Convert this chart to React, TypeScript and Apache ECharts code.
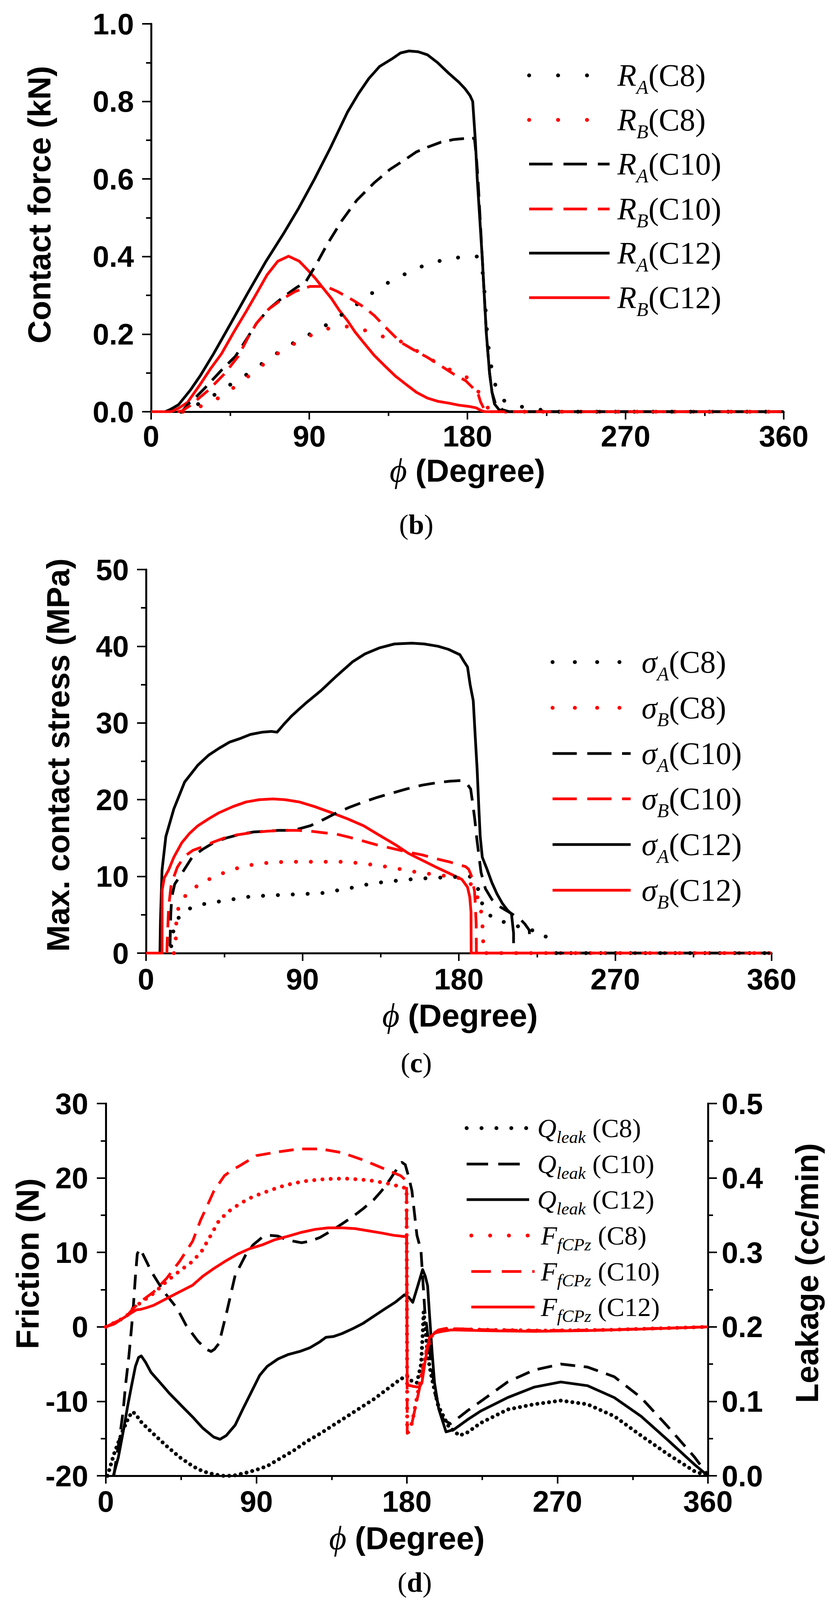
import React, { useEffect, useRef } from "react";
import * as echarts from "echarts";

const SANS = "'Liberation Sans', Arial, Helvetica, sans-serif";
const SERIF = "'Liberation Serif', 'Times New Roman', 'DejaVu Serif', serif";
const RED = "#ff0000";
const BLACK = "#000000";

// ---- (b) contact force (kN) vs phi (deg)
const forceRA_C8 = [[17,0],[22,0.012],[27,0.02],[37,0.046],[45.8,0.072],[55.5,0.099],[64.4,0.128],[72,0.152],[79.7,0.174],[90.4,0.2],[101,0.227],[110,0.255],[117.8,0.279],[127,0.31],[135,0.333],[143.6,0.353],[154.3,0.375],[166.5,0.392],[178.6,0.4],[186,0.4],[187.8,0.39],[189.3,0.336],[190.5,0.25],[191.4,0.187],[193.2,0.126],[195.4,0.074],[200,0.03],[210.6,0.013],[225.8,0.002],[232,0],[360,0]];
const forceRB_C8 = [[18,0],[22,0.005],[29.5,0.016],[40,0.039],[48.4,0.067],[57,0.097],[65,0.126],[72,0.15],[80,0.172],[90.4,0.196],[97,0.21],[104,0.218],[110,0.22],[116,0.218],[123,0.208],[130,0.196],[137,0.188],[143.6,0.179],[150,0.16],[157.3,0.14],[163,0.125],[168,0.113],[173,0.102],[178.6,0.092],[182,0.08],[184.7,0.065],[187,0.045],[189.3,0.022],[191,0.012],[194,0.004],[197,0],[360,0]];
const forceRA_C10 = [[16,0],[17.8,0.002],[20.7,0.018],[26,0.04],[31,0.063],[40,0.107],[48,0.143],[54,0.185],[60,0.228],[67,0.265],[75,0.295],[82,0.318],[88,0.335],[94,0.38],[100,0.43],[108.6,0.493],[117,0.545],[126.9,0.59],[136,0.625],[145.2,0.652],[151,0.67],[157.3,0.682],[165,0.695],[172.5,0.702],[180,0.705],[184,0.705],[185.2,0.65],[186,0.6],[187.2,0.5],[188.4,0.4],[189.6,0.3],[190.8,0.2],[192.6,0.1],[194,0.05],[196,0.02],[200,0.005],[204,0],[360,0]];
const forceRB_C10 = [[15,0],[17.5,0.002],[22,0.015],[32.5,0.055],[42,0.099],[49.6,0.143],[55,0.19],[60,0.228],[67,0.265],[75.2,0.292],[82,0.31],[90.4,0.323],[99.5,0.323],[106,0.31],[114.7,0.288],[121,0.27],[127,0.248],[134,0.215],[142,0.179],[150,0.158],[157.3,0.14],[165,0.118],[172.5,0.096],[179,0.08],[183.2,0.061],[185,0.055],[186.2,0.044],[187.5,0.025],[189.3,0.009],[191,0],[360,0]];
const forceRA_C12 = [[8,0],[11,0.006],[15.6,0.018],[22.2,0.055],[28,0.093],[35.5,0.149],[45,0.225],[55,0.306],[65,0.385],[75.2,0.458],[84,0.525],[93,0.6],[102,0.68],[111.7,0.772],[118,0.82],[123.9,0.859],[130,0.89],[137.5,0.911],[142,0.925],[146.7,0.93],[152,0.928],[157.3,0.92],[163,0.9],[169.5,0.872],[175,0.85],[178.6,0.833],[181.5,0.815],[183,0.8],[184.5,0.7],[185.6,0.6],[187,0.5],[188.4,0.4],[189.6,0.3],[190.8,0.2],[192.6,0.1],[194,0.05],[195.4,0.02],[198,0.005],[203,0],[360,0]];
const forceRB_C12 = [[0,0],[11,0],[12.4,0.002],[16,0.01],[20.7,0.024],[28,0.071],[34,0.112],[40,0.149],[47,0.205],[53.9,0.257],[60,0.305],[66,0.353],[72.1,0.388],[78.2,0.401],[84.3,0.388],[89,0.366],[93.4,0.344],[98,0.318],[102.6,0.292],[107,0.262],[111.7,0.235],[116,0.206],[120.8,0.179],[127,0.145],[133,0.118],[139,0.092],[145.2,0.07],[151,0.05],[157.3,0.035],[163,0.027],[169.5,0.022],[175,0.017],[181.7,0.013],[185,0.01],[187.8,0.003],[190,0],[360,0]];

// ---- (c) max. contact stress (MPa) vs phi (deg)
const stressA_C8 = [[14.5,0.9],[15.5,2.5],[16,3.3],[18,4.4],[20.6,5.1],[25,5.8],[29.8,6.2],[37,6.6],[45,6.8],[52,7.1],[60.6,7.4],[70,7.5],[79,7.6],[90,7.7],[100.6,7.8],[108,8.1],[116,8.4],[126,8.9],[137.5,9.3],[147,9.5],[156,9.7],[165,9.8],[174.5,9.9],[180,9.95],[186.3,10],[189,9.2],[191.2,8.3],[193.5,6.4],[198.4,4.8],[206.5,4],[215.5,3.4],[225,2.8],[232.4,1.85],[232.5,"-"],[236,0],[360,0]];
const stressB_C8 = [[16,0],[17,1],[17.5,4.6],[19,6.3],[22,7.3],[25.5,8.2],[29.8,8.8],[35,9.5],[39,9.9],[45,10.5],[51.4,11],[58,11.4],[66.8,11.7],[74,11.85],[82,11.9],[91,11.9],[100.6,11.9],[108,11.9],[116,11.9],[123,11.7],[131.4,11.5],[140,11.2],[150,10.8],[157,10.5],[164.3,10.3],[174.4,10],[185,9.6],[189,8.3],[192.4,6.3],[193.5,4],[194,1.7],[194.1,0],[360,0]];
const stressA_C10 = [[13.8,0.9],[14.2,5],[14.8,7.3],[16.5,9],[20.6,10.4],[26.8,12.6],[33,13.6],[39,14.4],[46,15],[54.5,15.5],[62,15.8],[69.8,15.9],[76,16],[82,16],[88,16.2],[94.5,16.6],[102,17.4],[109.8,18.3],[117,19],[125.2,19.7],[133,20.3],[140.6,20.8],[150,21.4],[159,21.9],[167,22.2],[174.5,22.4],[181.2,22.5],[184,22.3],[186.8,21.4],[188,19.5],[189.2,17.4],[190.3,15],[191.4,13],[192.8,10.5],[195.3,8.4],[199,7],[204,6],[210,5.2],[215.5,4.4],[218,3.8],[220.5,3],[221,1.4],[221.1,"-"],[234,0],[360,0]];
const stressB_C10 = [[12,0],[12.1,1],[13,6],[14.5,9],[18,11.2],[22,12.6],[27,13.4],[33,13.9],[39,14.5],[45,15],[52,15.4],[60.6,15.7],[70,15.9],[79,16],[87,16],[94.5,15.9],[102,15.7],[109.8,15.5],[117,15.1],[125.2,14.6],[133,14.1],[140.6,13.7],[150,13.2],[159,12.8],[167,12.3],[174.5,11.9],[180,11.5],[183.7,11.3],[185.6,10.95],[187.2,10.1],[189,8.1],[189.4,6.75],[190,3.7],[190.1,0],[360,0]];
const stressA_C12 = [[8,0],[8.3,4.2],[9.2,10.8],[11.4,15.2],[16,18.8],[22.2,22.3],[29.8,24.5],[36,25.8],[42,26.7],[48,27.5],[54.5,28],[60,28.5],[66.8,28.8],[72,28.9],[75.4,28.8],[80,30],[83.7,30.9],[92,32.6],[100.6,34.2],[110,36.2],[119,38],[126,39],[134.5,39.8],[143,40.3],[153,40.4],[160,40.3],[168,40],[174,39.6],[180.6,38.9],[183,38],[185,37.3],[186.5,35],[188.3,32.9],[189.5,28],[190.5,24.1],[191.5,19],[192.3,15.2],[193.5,12.5],[196.2,10.95],[199,9.2],[202,7.7],[205,6.5],[208,5.6],[210.3,5.1],[211.5,2.6],[211.5,1.3]];
const stressB_C12 = [[0,0],[9.2,0],[9.25,8.2],[10.5,9.8],[12.9,10.8],[16,12.5],[20.6,14.4],[25,15.6],[29.8,16.6],[36,17.5],[42,18.3],[50,19.1],[57.5,19.7],[65,20],[73,20.1],[80,20],[88.3,19.7],[97,19.1],[106.8,18.3],[116,17.5],[125.2,16.6],[134,15.4],[143.7,14.1],[151,13],[159,12.1],[167,11.2],[174.5,10.4],[181.8,9.6],[185,8.6],[186.3,7.3],[187,5.4],[187.1,0],[360,0]];

// ---- (d) leakage Q (cc/min, right axis) and friction F (N, left axis) vs phi (deg)
const leakC8 = [[1,0],[5,0.03],[10,0.06],[14,0.08],[16.1,0.086],[18,0.082],[21.6,0.071],[28.6,0.056],[36.3,0.04],[44.1,0.025],[51.9,0.013],[58,0.006],[64.5,0.002],[70,0],[76,0],[83.7,0.004],[90,0.008],[96.5,0.013],[104,0.023],[112.4,0.034],[120,0.046],[128.4,0.057],[136,0.068],[144.4,0.08],[152,0.091],[160.3,0.103],[168,0.116],[176.3,0.13],[180,0.134],[183,0.127],[186,0.125],[188.5,0.15],[189.6,0.197],[190,0.22],[191,0.2],[192.5,0.16],[195,0.13],[198.7,0.094],[205,0.066],[211.4,0.054],[216,0.058],[224.2,0.071],[240.2,0.089],[256,0.096],[272,0.101],[288,0.096],[304,0.08],[320,0.054],[336,0.029],[352,0.006],[360,0]];
const leakC10 = [[4.8,0],[6.4,0.025],[8.3,0.052],[10.3,0.086],[11.8,0.122],[13.8,0.161],[15.3,0.197],[16.5,0.229],[17.7,0.268],[18.8,0.298],[20.4,0.305],[22.5,0.296],[24.7,0.286],[27,0.275],[31.7,0.258],[34.8,0.247],[42.6,0.225],[48,0.202],[55,0.181],[60,0.17],[62.9,0.167],[65,0.17],[67.7,0.178],[72.5,0.222],[77.3,0.269],[83.7,0.297],[88,0.31],[93.3,0.32],[98,0.323],[102.8,0.322],[107,0.318],[112.4,0.315],[117,0.313],[122,0.315],[128,0.32],[134.8,0.329],[141,0.338],[147.6,0.348],[154,0.359],[160.3,0.371],[165,0.383],[169.9,0.398],[174,0.412],[177,0.421],[179,0.418],[181,0.402],[183,0.383],[186,0.323],[188.4,0.303],[190.7,0.222],[193.9,0.163],[197,0.108],[201.9,0.075],[206,0.07],[208,0.073],[216,0.087],[224.2,0.1],[240.2,0.126],[256,0.142],[272,0.15],[288,0.146],[304,0.133],[320,0.105],[336,0.066],[352,0.025],[360,0.001]];
const leakC12 = [[4.5,0],[7.5,0.025],[10.7,0.063],[13,0.093],[15.3,0.12],[17.7,0.147],[19.6,0.159],[21.2,0.161],[23.9,0.152],[27,0.139],[32.5,0.125],[37.9,0.111],[45.7,0.093],[51.9,0.079],[58,0.064],[64.5,0.052],[68.3,0.049],[72,0.054],[77.3,0.068],[82,0.09],[86.9,0.112],[92,0.135],[96.5,0.147],[103,0.157],[109.2,0.163],[116,0.167],[122,0.172],[128,0.18],[131.6,0.186],[136,0.187],[141.2,0.191],[148,0.198],[154,0.205],[160,0.214],[166.7,0.224],[173,0.233],[178.5,0.243],[181,0.24],[183.5,0.233],[186.5,0.255],[189.4,0.277],[191,0.268],[192.4,0.255],[193.5,0.217],[195,0.168],[196.5,0.125],[199,0.09],[203.4,0.059],[208,0.062],[216,0.075],[224.2,0.087],[240.2,0.105],[256,0.119],[272,0.126],[288,0.121],[304,0.105],[320,0.08],[336,0.048],[352,0.015],[360,0]];
const frictionC8 = [[0,0],[9,1],[13,1.6],[16.1,2.45],[20.8,3.25],[28.6,4.5],[36.3,6.1],[44.1,7.5],[51.9,8.8],[57.4,10.2],[62,12],[67.7,14.3],[74,15.6],[80.5,16.6],[88,17.5],[96.5,18.2],[104,18.8],[112.4,19.3],[120,19.6],[128.4,19.8],[136,19.9],[144.4,19.9],[152,19.8],[160.3,19.6],[169.9,19.2],[179.8,18.6],[180.2,-13.5],[183,-13],[186,-9.5],[189,-6],[192,-3],[195,-1.2],[199,-0.5],[204,-0.3],[230,-0.4],[260,-0.5],[300,-0.4],[330,-0.2],[360,0]];
const frictionC10 = [[0,0],[9,1],[13,1.6],[16.1,2.4],[20.8,3.4],[28.6,4.7],[36.3,6.5],[44.1,8.8],[51.9,11.5],[56.6,14.3],[61.3,16.6],[64.5,18.2],[70.9,20.3],[75,21],[80.5,21.7],[90,23],[102.8,23.5],[115.6,23.9],[128.4,23.9],[141.2,23.4],[154,22.4],[166.7,21.2],[176.3,20.3],[179.8,19.6],[180.2,-14.3],[182,-14],[184.3,-11.6],[187.5,-8.3],[190,-5],[192.3,-2.5],[195,-1],[199,-0.4],[203.4,-0.2],[230,-0.4],[260,-0.5],[300,-0.4],[330,-0.2],[360,0]];
const frictionC12 = [[0,0],[5.2,0.4],[9.1,1],[13,1.55],[16.1,2],[18.4,2.3],[20.8,2.35],[24.7,2.6],[28.6,2.9],[36.3,3.8],[44.1,4.7],[51.9,5.6],[58,6.8],[65,7.9],[72,8.9],[79,9.8],[86,10.5],[93.3,11],[101,11.7],[109.2,12.2],[117,12.7],[125.2,13.1],[133,13.3],[141.2,13.3],[149,13.2],[157.1,12.9],[165,12.6],[172,12.3],[179.8,12.1],[180.2,-7.8],[184,-8],[187.5,-8.1],[189,-7.5],[191,-4.5],[193.5,-1.4],[197,-0.8],[201,-0.6],[206.6,-0.4],[224,-0.5],[256,-0.6],[288,-0.5],[320,-0.3],[360,0]];

const caseLabels = ["(C8)", "(C10)", "(C12)"];

// The browser window is only 4096px tall, so the 4971px-high figure is laid
// out with its vertical positions squeezed by K to keep every part visible.
const PAGE_H = 4096;
const K = PAGE_H / 4971;
const sy = (v: number) => Math.round(v * K);

const TICK_FONT = 76;
const TITLE_FONT = 82;

type Kind = "dot" | "dash" | "solid";

function lineSeries(name: string, data: any[], xi: number, yi: number, color: string, kind: Kind, pattern: number[]) {
  return {
    name,
    type: "line",
    xAxisIndex: xi,
    yAxisIndex: yi,
    data,
    symbol: "none",
    showSymbol: false,
    connectNulls: false,
    silent: true,
    lineStyle: {
      color,
      width: kind === "dot" ? 10 : 7,
      type: kind === "solid" ? "solid" : pattern,
      cap: kind === "dot" ? "round" : "butt",
      join: "round",
    },
  };
}

const labelStyle = { color: BLACK, fontSize: TICK_FONT, fontWeight: "bold" as const, fontFamily: SANS };
const tickLine = { color: BLACK, width: 4 };

function xAxisFor(gridIndex: number, margin: number) {
  return {
    type: "value",
    gridIndex,
    min: 0,
    max: 360,
    interval: 90,
    axisLine: { show: true, onZero: false, lineStyle: { color: BLACK, width: 5 } },
    axisTick: { show: true, length: 20, lineStyle: tickLine },
    minorTick: { show: true, splitNumber: 2, length: 11, lineStyle: tickLine },
    splitLine: { show: false },
    axisLabel: { ...labelStyle, margin },
  };
}

function yAxisFor(gridIndex: number, min: number, max: number, interval: number, decimals: number, position: string, margin: number) {
  return {
    type: "value",
    gridIndex,
    position,
    min,
    max,
    interval,
    axisLine: { show: true, onZero: false, lineStyle: { color: BLACK, width: 5 } },
    axisTick: { show: true, length: 23, lineStyle: tickLine },
    minorTick: { show: true, splitNumber: 2, length: 13, lineStyle: tickLine },
    splitLine: { show: false },
    axisLabel: { ...labelStyle, margin, formatter: (v: number) => v.toFixed(decimals) },
  };
}

function vTitle(x: number, y: number, text: string) {
  return {
    type: "text",
    x,
    y,
    rotation: Math.PI / 2,
    silent: true,
    style: { text, fill: BLACK, fontSize: TITLE_FONT, fontWeight: "bold", fontFamily: SANS, align: "center", verticalAlign: "middle" },
  };
}

function phiTitle(x: number, y: number) {
  return {
    type: "text",
    x,
    y,
    silent: true,
    style: {
      text: "{p|ϕ }{t|(Degree)}",
      fill: BLACK,
      align: "center",
      verticalAlign: "middle",
      rich: {
        p: { fontFamily: SERIF, fontStyle: "italic", fontSize: 86, fill: BLACK },
        t: { fontFamily: SANS, fontWeight: "bold", fontSize: 82, fill: BLACK },
      },
    },
  };
}

function caption(x: number, y: number, letter: string) {
  return {
    type: "text",
    x,
    y,
    silent: true,
    style: {
      text: `{n|(}{b|${letter}}{n|)}`,
      align: "center",
      verticalAlign: "middle",
      rich: {
        n: { fontFamily: SERIF, fontSize: 72, fill: BLACK },
        b: { fontFamily: SERIF, fontSize: 72, fontWeight: "bold", fill: BLACK },
      },
    },
  };
}

type LegendRow = { color: string; kind: Kind; dash: number[]; text: string };

function legendBlock(x1: number, x2: number, tx: number, ys: number[], rows: LegendRow[], rich: any) {
  const els: any[] = [];
  rows.forEach((r, i) => {
    const y = ys[i];
    els.push({
      type: "line",
      silent: true,
      shape: { x1, y1: y, x2, y2: y },
      style: {
        stroke: r.color,
        lineWidth: r.kind === "dot" ? 10 : 7,
        lineDash: r.kind === "solid" ? null : r.dash,
        lineCap: r.kind === "dot" ? "round" : "butt",
      },
    });
    els.push({
      type: "text",
      x: tx,
      y,
      silent: true,
      style: { text: r.text, fill: BLACK, align: "left", verticalAlign: "middle", rich },
    });
  });
  return els;
}

const richB = {
  i: { fontFamily: SERIF, fontStyle: "italic", fontSize: 80, fill: BLACK },
  s: { fontFamily: SERIF, fontStyle: "italic", fontSize: 50, fill: BLACK, padding: [60, 0, 0, 0] },
  r: { fontFamily: SERIF, fontSize: 80, fill: BLACK },
};
const richD = {
  i: { fontFamily: SERIF, fontStyle: "italic", fontSize: 68, fill: BLACK },
  s: { fontFamily: SERIF, fontStyle: "italic", fontSize: 45, fill: BLACK, padding: [46, 0, 0, 0] },
  r: { fontFamily: SERIF, fontSize: 68, fill: BLACK },
};

function buildOption(): any {
  const dotB = [0.1, 48];
  const dashB = [38, 21];
  const dotC = [0.1, 38];
  const dashC = [42, 24];
  const dashD = [38, 22];

  const series = [
    // (b)
    lineSeries("RA(C12)", forceRA_C12, 0, 0, BLACK, "solid", []),
    lineSeries("RB(C12)", forceRB_C12, 0, 0, RED, "solid", []),
    lineSeries("RA(C8)", forceRA_C8, 0, 0, BLACK, "dot", dotB),
    lineSeries("RB(C8)", forceRB_C8, 0, 0, RED, "dot", dotB),
    lineSeries("RA(C10)", forceRA_C10, 0, 0, BLACK, "dash", dashB),
    lineSeries("RB(C10)", forceRB_C10, 0, 0, RED, "dash", dashB),
    // (c)
    lineSeries("σA(C12)", stressA_C12, 1, 1, BLACK, "solid", []),
    lineSeries("σB(C12)", stressB_C12, 1, 1, RED, "solid", []),
    lineSeries("σA(C8)", stressA_C8, 1, 1, BLACK, "dot", dotC),
    lineSeries("σB(C8)", stressB_C8, 1, 1, RED, "dot", dotC),
    lineSeries("σA(C10)", stressA_C10, 1, 1, BLACK, "dash", dashC),
    lineSeries("σB(C10)", stressB_C10, 1, 1, RED, "dash", dashC),
    // (d)
    lineSeries("Qleak(C12)", leakC12, 2, 3, BLACK, "solid", []),
    lineSeries("Qleak(C8)", leakC8, 2, 3, BLACK, "dot", [0.1, 15]),
    lineSeries("Qleak(C10)", leakC10, 2, 3, BLACK, "dash", dashD),
    lineSeries("FfCPz(C12)", frictionC12, 2, 2, RED, "solid", []),
    lineSeries("FfCPz(C8)", frictionC8, 2, 2, RED, "dot", [0.1, 21]),
    lineSeries("FfCPz(C10)", frictionC10, 2, 2, RED, "dash", dashD),
  ];

  const graphics = [
    vTitle(100, sy(636), "Contact force (kN)"),
    phiTitle(1197, sy(1452) + 8),
    caption(1066, sy(1625) + 4, "b"),
    ...legendBlock(1355, 1561, 1581, [234, 372, 510, 649, 787, 925].map(sy), [
      { color: BLACK, kind: "dot", dash: [0.1, 74], text: `{i|R}{s|A}{r|${caseLabels[0]}}` },
      { color: RED, kind: "dot", dash: [0.1, 74], text: `{i|R}{s|B}{r|${caseLabels[0]}}` },
      { color: BLACK, kind: "dash", dash: [60, 28], text: `{i|R}{s|A}{r|${caseLabels[1]}}` },
      { color: RED, kind: "dash", dash: [60, 28], text: `{i|R}{s|B}{r|${caseLabels[1]}}` },
      { color: BLACK, kind: "solid", dash: [], text: `{i|R}{s|A}{r|${caseLabels[2]}}` },
      { color: RED, kind: "solid", dash: [], text: `{i|R}{s|B}{r|${caseLabels[2]}}` },
    ], richB),

    vTitle(148, sy(2346), "Max. contact stress (MPa)"),
    phiTitle(1178, sy(3144) + 8),
    caption(1066, sy(3300) + 2, "c"),
    ...legendBlock(1415, 1615, 1643, [2057, 2199, 2341, 2482, 2624, 2766].map(sy), [
      { color: BLACK, kind: "dot", dash: [0.1, 57], text: `{i|σ}{s|A}{r|${caseLabels[0]}}` },
      { color: RED, kind: "dot", dash: [0.1, 57], text: `{i|σ}{s|B}{r|${caseLabels[0]}}` },
      { color: BLACK, kind: "dash", dash: [62, 27], text: `{i|σ}{s|A}{r|${caseLabels[1]}}` },
      { color: RED, kind: "dash", dash: [62, 27], text: `{i|σ}{s|B}{r|${caseLabels[1]}}` },
      { color: BLACK, kind: "solid", dash: [], text: `{i|σ}{s|A}{r|${caseLabels[2]}}` },
      { color: RED, kind: "solid", dash: [], text: `{i|σ}{s|B}{r|${caseLabels[2]}}` },
    ], richB),

    vTitle(70, sy(3926), "Friction (N)"),
    vTitle(2066, sy(3955), "Leakage (cc/min)"),
    phiTitle(1042, sy(4768) + 8),
    caption(1062, sy(4916), "d"),
    ...legendBlock(1195, 1355, 1376, [3505, 3617, 3727].map(sy), [
      { color: BLACK, kind: "dot", dash: [0.1, 38], text: `{i|Q}{s|leak}{r| ${caseLabels[0]}}` },
      { color: BLACK, kind: "dash", dash: [55, 26], text: `{i|Q}{s|leak}{r| ${caseLabels[1]}}` },
      { color: BLACK, kind: "solid", dash: [], text: `{i|Q}{s|leak}{r| ${caseLabels[2]}}` },
    ], richD),
    ...legendBlock(1207, 1369, 1385, [3839, 3950, 4061].map(sy), [
      { color: RED, kind: "dot", dash: [0.1, 48], text: `{i|F}{s|fCPz}{r| ${caseLabels[0]}}` },
      { color: RED, kind: "dash", dash: [50, 28], text: `{i|F}{s|fCPz}{r| ${caseLabels[1]}}` },
      { color: RED, kind: "solid", dash: [], text: `{i|F}{s|fCPz}{r| ${caseLabels[2]}}` },
    ], richD),
  ];

  return {
    animation: false,
    backgroundColor: "#ffffff",
    grid: [
      { left: 387, top: sy(74), width: 1620, height: sy(1279) - sy(74), outerBoundsMode: "none" },
      { left: 374, top: sy(1769), width: 1602, height: sy(2961) - sy(1769), outerBoundsMode: "none" },
      { left: 271, top: sy(3429), width: 1542, height: sy(4585) - sy(3429), outerBoundsMode: "none" },
    ],
    xAxis: [xAxisFor(0, 24), xAxisFor(1, 28), xAxisFor(2, 27)],
    yAxis: [
      yAxisFor(0, 0, 1, 0.2, 1, "left", 44),
      yAxisFor(1, 0, 50, 10, 0, "left", 44),
      yAxisFor(2, -20, 30, 10, 0, "left", 45),
      yAxisFor(2, 0, 0.5, 0.1, 1, "right", 35),
    ],
    series,
    graphic: { elements: graphics },
  };
}

export default function App() {
  const ref = useRef<HTMLDivElement | null>(null);

  useEffect(() => {
    if (!ref.current) return;
    document.body.style.margin = "0";
    const chart = echarts.init(ref.current, undefined, { renderer: "svg" });
    chart.setOption(buildOption());
    return () => {
      chart.dispose();
    };
  }, []);

  return (
    <div
      ref={ref}
      style={{ position: "absolute", left: 0, top: 0, width: 2146, height: PAGE_H, background: "#fff" }}
    />
  );
}
